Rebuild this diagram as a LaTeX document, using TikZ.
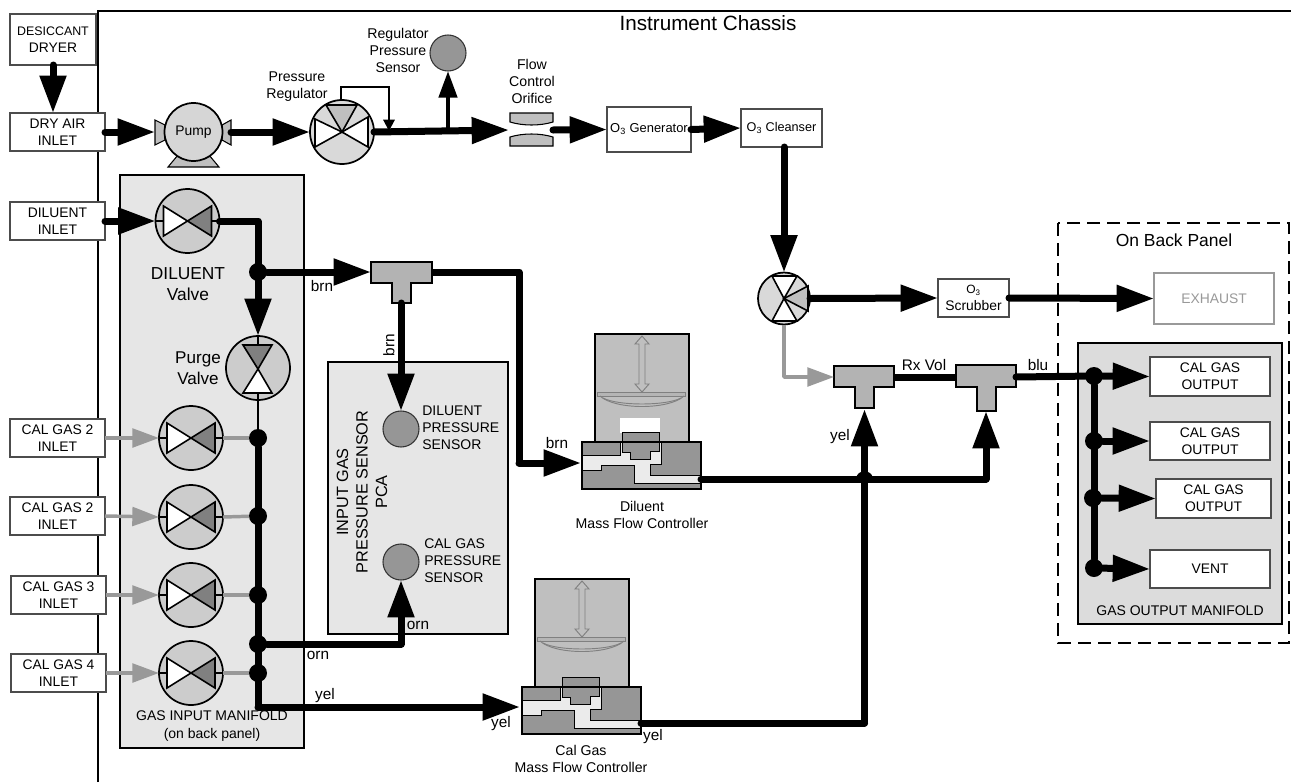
\documentclass[tikz,border=0pt]{standalone}
\usepackage{fontspec}
\setmainfont{Liberation Sans}
\usetikzlibrary{arrows.meta,calc}
\newcommand{\fs}[2]{\fontsize{#1}{#2}\selectfont}
\definecolor{mangray}{HTML}{E6E6E6}
\definecolor{outgray}{HTML}{DCDCDC}
\definecolor{valvegray}{HTML}{CCCCCC}
\definecolor{trigray}{HTML}{808080}
\definecolor{tgray}{HTML}{B3B3B3}
\definecolor{thingray}{HTML}{999999}
\definecolor{mfchouse}{HTML}{BFBFBF}
\definecolor{mfcdark}{HTML}{969696}
\definecolor{mfclight}{HTML}{EBEBEB}
\tikzset{
  pipe/.style={line width=5.25pt,line cap=round,line join=round},
  pipeA/.style={pipe,-{Triangle[length=28pt,width=19pt]}},
  pipeB/.style={line width=3.4pt,-{Triangle[length=20pt,width=13.5pt]}},
  grayA/.style={line width=2.6pt,thingray,line join=round,-{Triangle[length=20pt,width=14pt]}},
  grayL/.style={line width=2.6pt,thingray},
  fine/.style={line width=1.5pt},
  junc/.style={circle,fill=black,minimum size=13.5pt,inner sep=0pt,outer sep=0pt},
  boxs/.style={draw=black!70,line width=.8pt,fill=white,inner sep=0pt,outer sep=0pt,align=center,font=\fs{10.4}{12.75}},
  mans/.style={draw=black,line width=1.4pt,inner sep=0pt,outer sep=0pt},
  valves/.style={circle,draw=black,line width=1.3pt,fill=valvegray,inner sep=0pt,outer sep=0pt},
  sens/.style={circle,draw=black!80,line width=.8pt,fill=mfcdark,inner sep=0pt,outer sep=0pt,minimum size=27pt},
  lab/.style={align=center,inner sep=0pt,font=\fs{10.6}{12.75}},
  wire/.style={font=\fs{11.5}{13},inner sep=0pt},
  tfit/.style={draw=black,line width=1.2pt,fill=tgray,line join=miter},
  tri/.style={draw=black,line width=1.2pt,line join=miter},
  dia/.style={draw=trigray,line width=.7pt,fill=mfchouse}
}
% \bx[opts]{name}{x1}{y1}{x2}{y2}{text}
\newcommand{\bx}[7][boxs]{\node[#1,minimum width={(#5-#3)*0.75pt},minimum height={(#6-#4)*0.75pt}] (#2) at ({(#3+#5)/2},{(#4+#6)/2}) {#7};}
% horizontal valve
\newcommand{\hvalve}[3]{%
  \node[valves,minimum size=48pt] (#1) at (#2,#3) {};
  \draw[line width=1.3pt] (#2-32,#3) -- (#2-24,#3) (#2+24,#3) -- (#2+32,#3);
  \draw[tri,fill=white] (#2,#3) -- (#2-24,#3-15) -- (#2-24,#3+15) -- cycle;
  \draw[tri,fill=trigray] (#2,#3) -- (#2+24,#3-15) -- (#2+24,#3+15) -- cycle;
}
\newcommand{\mfc}[3]{%
  \begin{scope}[shift={(#1,#2)}]
    \fill[mfchouse] (595,334) rectangle (689,442);
    \draw[line width=1.5pt] (595,442) -- (595,334) -- (689,334) -- (689,442);
    \fill[mfclight] (582,441) rectangle (701,489);
    \fill[#3] (620,418) rectangle (659.5,433);
    \draw[draw=black,line width=.7pt,fill=mfcdark] (582,441.5) -- (620,441.5) -- (620,455) -- (582,455) -- cycle;
    \draw[draw=black,line width=.7pt,fill=mfcdark] (661.3,441.5) -- (701,441.5) -- (701,475) -- (650,475) -- (650,464) -- (661.3,464) -- cycle;
    \draw[draw=black,line width=.7pt,fill=mfcdark] (582,470.7) -- (601,470.7) -- (601,465) -- (634,465) -- (634,483.3) -- (701,483.3) -- (701,489) -- (582,489) -- cycle;
    \draw[draw=black,line width=.7pt,fill=mfcdark] (622.7,432.7) -- (659.3,432.7) -- (659.3,451.7) -- (650.7,451.7) -- (650.7,459.3) -- (630.7,459.3) -- (630.7,452.7) -- (622.7,452.7) -- cycle;
    \draw[line width=1.5pt] (582,441.5) rectangle (701,489);
    \draw[dia,fill=mfchouse] (642,336) -- (649,344) -- (645,344) -- (645,384) -- (649,384) -- (642,392) -- (635,384) -- (639,384) -- (639,344) -- (635,344) -- cycle;
    \draw[dia,fill=mfcdark!70] (597,392) rectangle (685,396);
    \draw[draw=trigray,line width=.7pt] (600,396) .. controls (615,410) and (669,410) .. (684,396);
    \draw[draw=trigray,line width=.7pt] (603,398) .. controls (618,406) and (666,406) .. (681,398);
  \end{scope}
}
\newcommand{\tfitting}[7]{% x1 x2 y1 y2 stemx1 stemx2 stemy
  \draw[tfit] (#1,#3) -- (#2,#3) -- (#2,#4) -- (#6,#4) -- (#6,#7) -- (#5,#7) -- (#5,#4) -- (#1,#4) -- cycle;
}
\begin{document}
\begin{tikzpicture}[x=0.75pt,y=-0.75pt]
\useasboundingbox (0,0) rectangle (1291,782);
% chassis
\draw[line width=1.6pt] (98,782) -- (98,11) -- (1291,11);
\node[inner sep=0pt,font=\fs{15.5}{18}] (chassis) at (708,23) {Instrument Chassis};
% dashed back panel
\draw[line width=1.5pt,dash pattern=on 10pt off 5pt] (1058,223) rectangle (1289,643);
\node[inner sep=0pt,font=\fs{13.1}{15}] (backpanel) at (1174,240) {On Back Panel};
% manifolds
\bx[mans,fill=mangray]{inman}{120}{175}{304}{748}{}
\bx[mans,fill=mangray]{pca}{328}{362}{508}{634}{}
\bx[mans,fill=outgray]{outman}{1078}{343}{1282}{624}{}
\node[lab,font=\fs{10.5}{13.5}] (inmanl) at (212,726) {GAS INPUT MANIFOLD\\(on back panel)};
\node[lab,font=\fs{10.5}{12}] (outmanl) at (1180,611) {GAS OUTPUT MANIFOLD};
\node[lab,rotate=90,font=\fs{12.2}{14.6}] (pcal) at (362,492) {INPUT GAS\\PRESSURE SENSOR\\PCA};
% boxes
\bx{dryer}{10}{14}{96}{65}{\fs{9.3}{15}DESICCANT\\DRYER}
\bx{dryair}{10}{113}{105}{151}{DRY AIR\\INLET}
\bx{dilin}{10}{202}{105}{240}{DILUENT\\INLET}
\bx{cal1}{10}{419}{105}{457}{CAL GAS 2\\INLET}
\bx{cal2}{10}{497}{105}{535}{CAL GAS 2\\INLET}
\bx{cal3}{11}{576}{106}{614}{CAL GAS 3\\INLET}
\bx{cal4}{11}{654}{106}{692}{CAL GAS 4\\INLET}
\bx{gen}{607}{107}{691}{152}{\fs{9.7}{12}O\textsubscript{3} Generator}
\bx{clean}{741}{109}{822}{147}{\fs{9.5}{12}O\textsubscript{3} Cleanser}
\bx{scrub}{938}{279}{1009}{317}{\fs{9}{12.5}O\textsubscript{3}\\Scrubber}
\bx[boxs,draw=thingray,text=thingray]{exhaust}{1154}{273}{1274}{324}{EXHAUST}
\bx{out1}{1150}{357}{1270}{396}{CAL GAS\\OUTPUT}
\bx{out2}{1150}{422}{1270}{460}{CAL GAS\\OUTPUT}
\bx{out3}{1156}{479}{1271}{518}{CAL GAS\\OUTPUT}
\bx{vent}{1150}{550}{1270}{588}{VENT}
% pump
\draw[draw=black,line width=.8pt,fill=mfchouse] (155,120) -- (165,125) -- (165,140) -- (155,145) -- cycle;
\draw[draw=black,line width=.8pt,fill=mfchouse] (231,120) -- (222,125) -- (222,140) -- (231,145) -- cycle;
\draw[draw=black,line width=.8pt,fill=mfchouse] (168,167) -- (178,155) -- (209,155) -- (219,167) -- cycle;
\node[valves,minimum size=43.5pt,fill=valvegray!80,font=\fs{10.4}{12}] (pump) at (193.5,132) {Pump};
\coordinate (pumpin) at (155,132);
\coordinate (pumpout) at (231,132);
% pressure regulator
\node[valves,fill=valvegray!75,minimum size=48pt] (reg) at (342,132) {};
\draw[tri,fill=white] (342,132) -- (315,119) -- (315,147) -- cycle;
\draw[tri,fill=white] (342,132) -- (368,117) -- (368,147) -- cycle;
\draw[tri,fill=mfchouse] (342,132) -- (326,105) -- (357,105) -- cycle;
\coordinate (regtap) at (341,100);
\coordinate (regfb) at (389,131);
% regulator sensor
\node[sens] (regsens) at (448,53) {};
\coordinate (regjoin) at (448,131);
% orifice
\draw[draw=black,line width=.8pt,fill=mfchouse] (510,113) -- (553,113) -- (553,122) .. controls (540,126) and (523,126) .. (510,122) -- cycle;
\draw[draw=black,line width=.8pt,fill=mfchouse] (510,146) -- (553,146) -- (553,137) .. controls (540,133) and (523,133) .. (510,137) -- cycle;
\coordinate (orifin) at (509,130);
\coordinate (orifout) at (553,130);
% input valves
\hvalve{dilv}{187.5}{221}
\hvalve{v1}{191}{438}
\hvalve{v2}{191}{517}
\hvalve{v3}{191}{595}
\hvalve{v4}{191}{673}
% purge valve
\node[valves,minimum size=48pt] (purge) at (258,368) {};
\draw[line width=1.3pt] (258,336) -- (258,345) (258,393) -- (258,400);
\draw[tri,fill=trigray] (258,369) -- (243,345) -- (272,345) -- cycle;
\draw[tri,fill=white] (258,369) -- (243,393) -- (272,393) -- cycle;
% three-way valve
\node[valves,fill=valvegray!75,minimum size=39pt] (tway) at (784,298.5) {};
\draw[tri,fill=white] (784,298.5) -- (772,276) -- (797,276) -- cycle;
\draw[tri,fill=white] (784,298.5) -- (772,321) -- (797,321) -- cycle;
\draw[tri,fill=mfchouse] (784,298.5) -- (808,286) -- (808,311) -- cycle;
% sensors
\node[sens] (dilsens) at (401,429) {};
\node[sens] (calsens) at (401,562) {};
\node[lab,align=left,anchor=west,font=\fs{10.5}{12.75}] (dilsl) at (422,428) {DILUENT\\PRESSURE\\SENSOR};
\node[lab,align=left,anchor=west,font=\fs{10.5}{12.75}] (calsl) at (424,561) {CAL GAS\\PRESSURE\\SENSOR};
% T fittings
\tfitting{371}{432}{262}{283}{392}{411}{303}
\tfitting{834}{894}{366}{387}{855}{874}{408}
\tfitting{956}{1016}{365}{387}{977}{996}{411}
\coordinate (t1in) at (371,272);
\coordinate (t1out) at (432,272);
\coordinate (t1stem) at (401,303);
\coordinate (t2in) at (834,377);
\coordinate (t2out) at (894,377);
\coordinate (t2stem) at (864.5,409);
\coordinate (t3in) at (956,377);
\coordinate (t3out) at (1016,377);
\coordinate (t3stem) at (986,411);
% MFCs
\mfc{0}{0}{white}
\mfc{-60}{245}{mfchouse}
\coordinate (dmfcin) at (581,463);
\coordinate (dmfcout) at (701,479);
\coordinate (cmfcin) at (520,707);
\coordinate (cmfcout) at (641,723);
\node[lab] (dmfcl) at (642,514.5) {Diluent\\Mass Flow Controller};
\node[lab] (cmfcl) at (581,759) {Cal Gas\\Mass Flow Controller};
% junctions
\node[junc] (j0) at (258,272) {};
\node[junc] (j1) at (258,438) {};
\node[junc] (j2) at (258,516) {};
\node[junc] (j3) at (258,595) {};
\node[junc] (j4) at (258,644) {};
\node[junc] (j5) at (258,673) {};
\node[junc] (o1) at (1094,376) {};
\node[junc] (o2) at (1094,441) {};
\node[junc] (o3) at (1093,498) {};
\node[junc] (o4) at (1094,568) {};
% top line connectors
\draw[pipeA] (dryer.south) -- (dryer.south |- dryair.north);
\draw[pipeA] (dryair.east) -- (pumpin);
\draw[pipeA] (pumpout) -- (reg.west);
\draw[line width=1.5pt,-{Triangle[length=8.5pt,width=8.5pt]}] (regtap) -- (341,87) -- (389,87) -- (regfb);
\draw[pipeA] (reg.east) -- (orifin);
\draw[pipeB] (regjoin) -- (regsens.south);
\draw[pipeA] (orifout) -- (gen.west);
\draw[pipeA] (gen.east) -- (clean.west);
\draw[pipeA] (clean.south -| tway.north) -- (tway.north);
\draw[pipeA] (tway.east) -- (scrub.west);
\draw[pipeA] (scrub.east) -- (exhaust.west);
% gas input
\draw[pipeA] (dilin.east) -- (dilv.west);
\draw[pipeA] (dilv.east) -| (purge.north);
\draw[pipeA] (j0) -- (t1in);
\draw[pipe,line cap=butt] (t1out) -- (519,272) -- (519,463);
\draw[pipeA] (519,463) -- (dmfcin);
\draw[pipeA] (t1stem) -- (dilsens.north);
\draw[line width=2.2pt] (purge.south) -- (j1);
\draw[pipe] (j1) -- (258,707);
\draw[pipeA] (258,707) -- (cmfcin);
\draw[pipeA] (j4) -- (401,644) -- (calsens.south);
\foreach \n in {1,2,3,4}{
  \draw[grayA] (cal\n.east) -- (v\n.west);
}
\draw[grayL] (v1.east) -- (j1);
\draw[grayL] (v2.east) -- (j2);
\draw[grayL] (v3.east) -- (j3);
\draw[grayL] (v4.east) -- (j5);
% outputs
\draw[grayA] (tway.south) |- (t2in);
\draw[pipe,line cap=butt] (t2out) -- (t3in);
\draw[pipe] (t3out) -- (o1);
\draw[pipe] (o1) -- (o4);
\draw[pipeA] (o1) -- (out1.west);
\draw[pipeA] (o2) -- (out2.west);
\draw[pipeA] (o3) -- (out3.west);
\draw[pipeA] (o4) -- (vent.west);
\draw[pipe] (dmfcout) -- (986,479);
\draw[pipeA] (986,479) -- (t3stem);
\draw[pipe] (cmfcout) -- (864.5,723);
\draw[pipeA] (864.5,723) -- (t2stem);
\fill (856,478) .. controls (858,469) and (871,469) .. (873,478) -- cycle;
% labels
\node[lab] (regl) at (297,86.5) {Pressure\\Regulator};
\node[lab] (regsl) at (398,50) {Regulator\\Pressure\\Sensor};
\node[lab] (orl) at (532,81) {Flow\\Control\\Orifice};
\node[lab,font=\fs{13}{15.75}] (dill) at (188,284.5) {DILUENT\\Valve};
\node[lab,font=\fs{12.8}{15.75}] (pugl) at (198,368.5) {Purge\\Valve};
\node[wire] (w1) at (322,286) {brn};
\node[wire,rotate=90] (w2) at (389,345) {brn};
\node[wire] (w3) at (557,443) {brn};
\node[wire] (w4) at (318,655) {orn};
\node[wire] (w5) at (418,625) {orn};
\node[wire] (w6) at (325,696) {yel};
\node[wire] (w7) at (501,724) {yel};
\node[wire] (w8) at (653,737) {yel};
\node[wire] (w9) at (840,437) {yel};
\node[wire] (w10) at (924,365) {Rx Vol};
\node[wire] (w11) at (1038,365) {blu};
\end{tikzpicture}
\end{document}
